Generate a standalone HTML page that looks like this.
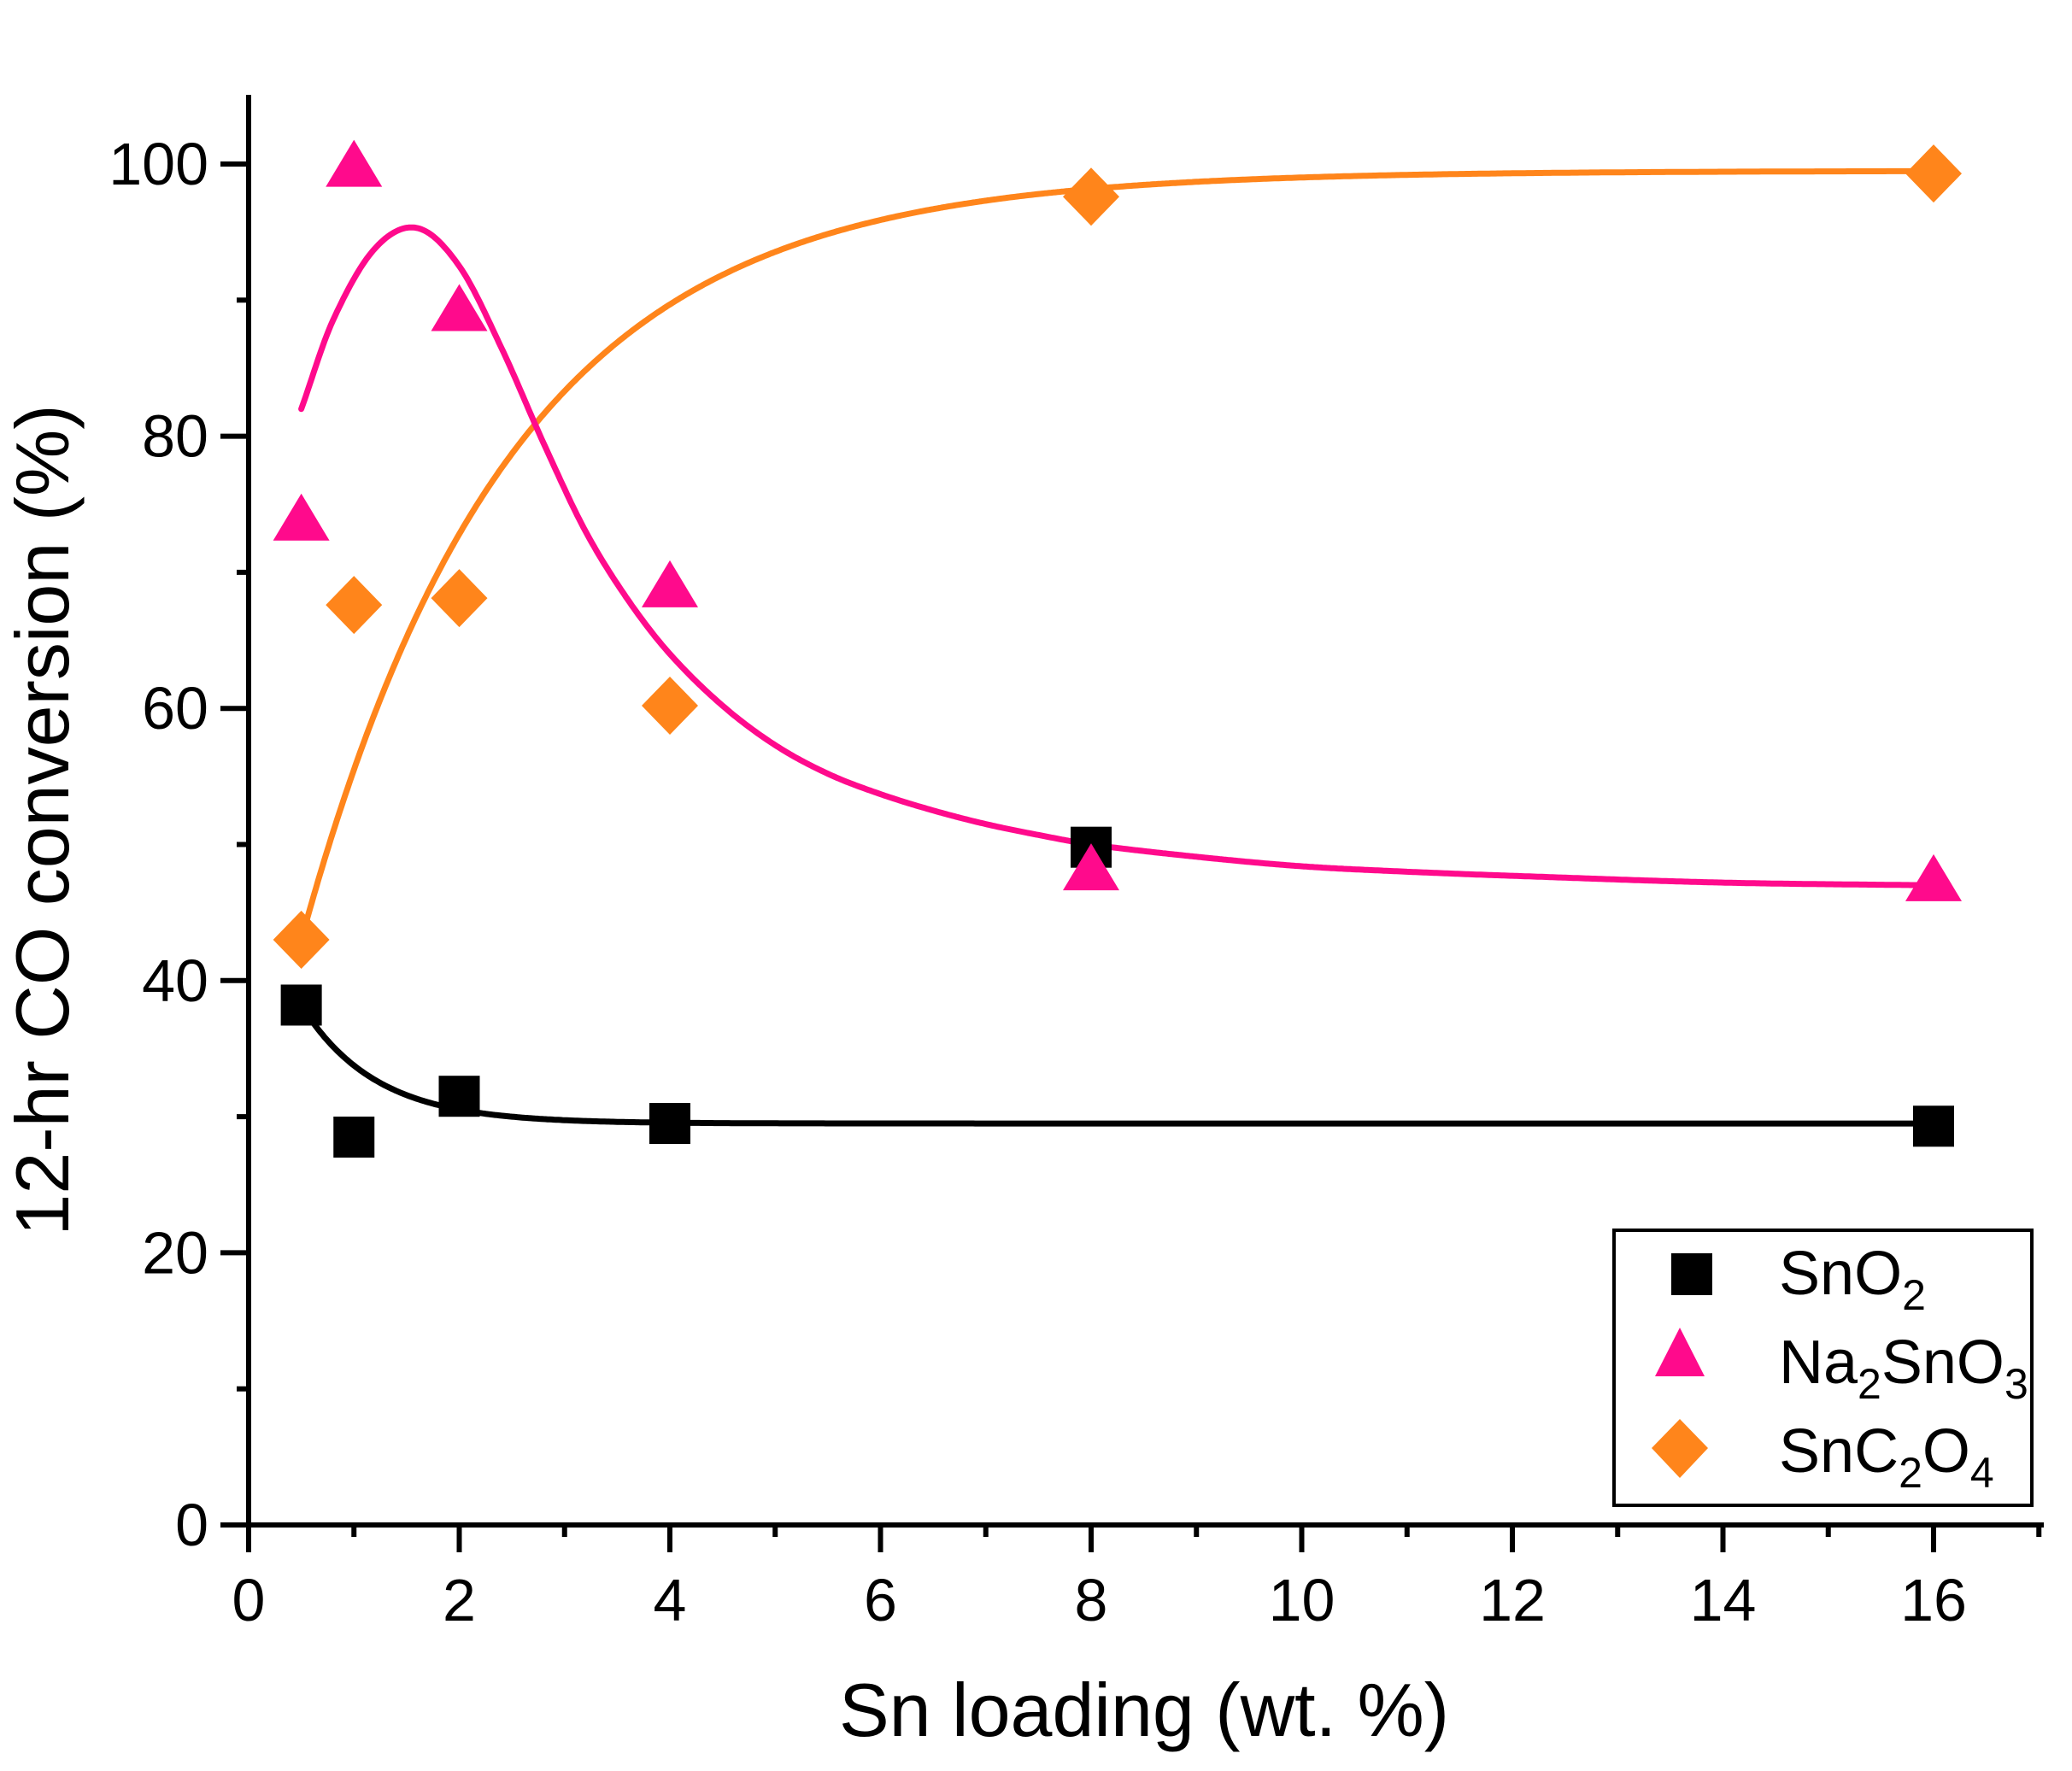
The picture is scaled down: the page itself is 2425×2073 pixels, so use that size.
<!DOCTYPE html>
<html><head><meta charset="utf-8"><style>
html,body{margin:0;padding:0;background:#fff;}
svg{display:block;}
text{font-family:"Liberation Sans",Arial,sans-serif;fill:#000;}
</style></head><body>
<svg id="s" width="2425" height="2073" viewBox="0 0 2425 2073" xmlns="http://www.w3.org/2000/svg">
<g id="g"></g>
<text x="1339" y="2032" font-size="88" text-anchor="middle">Sn loading (wt. %)</text>
<text transform="translate(80,960) rotate(-90)" font-size="88" text-anchor="middle">12-hr CO conversion (%)</text>
<rect x="1889" y="1440" width="489" height="322" fill="#fff" stroke="#000" stroke-width="4"/>
<rect x="1956" y="1467" width="48" height="49" fill="#000"/>
<polygon points="1966,1554 1937,1611 1995,1611" fill="#FF0A8C"/>
<polygon points="1966,1661 1999,1695 1966,1730 1933,1695" fill="#FF851B"/>
<text x="2082" y="1515" font-size="72">SnO<tspan font-size="50" dy="18">2</tspan></text>
<text x="2082" y="1619" font-size="72">Na<tspan font-size="50" dy="18">2</tspan><tspan dy="-18">SnO</tspan><tspan font-size="50" dy="18">3</tspan></text>
<text x="2082" y="1723" font-size="72">SnC<tspan font-size="50" dy="18">2</tspan><tspan dy="-18">O</tspan><tspan font-size="50" dy="18">4</tspan></text>
</svg>
<script>
var X=function(v){return 291+123.25*v;},Y=function(v){return 1785-15.93*v;};
var h='';
h+='<line x1="291" y1="111" x2="291" y2="1788" stroke="#000" stroke-width="6"/>';
h+='<line x1="260" y1="1785" x2="2392" y2="1785" stroke="#000" stroke-width="6"/>';
for(var i=0;i<=17;i++){var x=X(i),L=(i%2==0)?32:14;h+='<line x1="'+x+'" y1="1785" x2="'+x+'" y2="'+(1785+L)+'" stroke="#000" stroke-width="6"/>';
 if(i%2==0)h+='<text x="'+x+'" y="1897" font-size="70" text-anchor="middle">'+i+'</text>';}
for(var j=0;j<=100;j+=10){var y=Y(j),L=(j%20==0)?33:14;h+='<line x1="'+(291-L)+'" y1="'+y+'" x2="291" y2="'+y+'" stroke="#000" stroke-width="6"/>';
 if(j%20==0)h+='<text x="244" y="'+(y+24)+'" font-size="70" text-anchor="end">'+j+'</text>';}
function path(f,a,b,c,w){var d='';for(var t=a;t<=b+1e-9;t+=0.02){d+=(d?'L':'M')+X(t).toFixed(1)+','+Y(f(t)).toFixed(1);}return '<path d="'+d+'" fill="none" stroke="'+c+'" stroke-width="'+w+'" stroke-linecap="round" stroke-linejoin="round"/>';}
var pk=[[0.5,82],[0.8,88.5],[1.2,93.8],[1.6,95.3],[2.0,92.5],[2.4,86.5],[2.8,79.5],[3.2,73],[3.6,68],[4,64],[4.5,60.2],[5,57.3],[5.5,55.2],[6,53.7],[6.5,52.5],[7,51.5],[7.5,50.7],[8,50],[9,49.1],[10,48.4],[11,48],[12,47.7],[14,47.2],[16,47]];
function pf(t){for(var k=0;k<pk.length-1;k++){if(t<=pk[k+1][0]){var p0=pk[Math.max(k-1,0)],p1=pk[k],p2=pk[k+1],p3=pk[Math.min(k+2,pk.length-1)];
 var u=(t-p1[0])/(p2[0]-p1[0]);var m1=(p2[1]-p0[1])/(p2[0]-p0[0])*(p2[0]-p1[0]),m2=(p3[1]-p1[1])/(p3[0]-p1[0])*(p2[0]-p1[0]);
 var u2=u*u,u3=u2*u;return (2*u3-3*u2+1)*p1[1]+(u3-2*u2+u)*m1+(-2*u3+3*u2)*p2[1]+(u3-u2)*m2;}}return 47;}
h+=path(function(t){return 29.5+8.7*Math.exp(-(t-0.5)/0.7);},0.5,16,'#000',7);
h+=path(function(t){return 99.5-56.5*Math.exp(-(t-0.5)/2.0);},0.5,16,'#FF851B',7);
h+=path(pf,0.5,16,'#FF0A8C',7);
var sq=[[0.5,38.2],[1,28.5],[2,31.5],[4,29.5],[8,49.8],[16,29.3]];
sq.forEach(function(p){var x=X(p[0]),y=Y(p[1]);h+='<rect x="'+(x-24)+'" y="'+(y-24)+'" width="48" height="48" fill="#000"/>';});
var tr=[[0.5,73.9],[1,99.9],[2,89.3],[4,69],[8,48.2],[16,47.4]];
tr.forEach(function(p){var x=X(p[0]),y=Y(p[1]);h+='<polygon points="'+x+','+(y-30)+' '+(x-33)+','+(y+25)+' '+(x+33)+','+(y+25)+'" fill="#FF0A8C"/>';});
var dm=[[0.5,43],[1,67.6],[2,68.1],[4,60.2],[8,97.6],[16,99.3]];
dm.forEach(function(p){var x=X(p[0]),y=Y(p[1]);h+='<polygon points="'+x+','+(y-34)+' '+(x+33)+','+y+' '+x+','+(y+34)+' '+(x-33)+','+y+'" fill="#FF851B"/>';});
document.getElementById('g').innerHTML=h;
</script>
</body></html>
